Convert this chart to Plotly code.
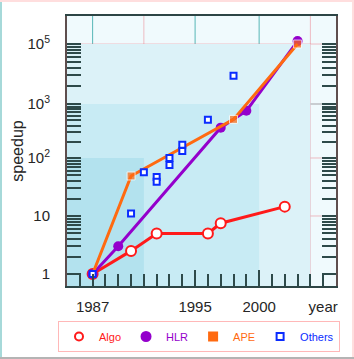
import numpy as np
import plotly.graph_objects as go

# ---------------- data ----------------
algo_years = [1987, 1990, 1992, 1996, 1997, 2002]
algo_speedup = [1, 2.5, 5, 5, 7.5, 14.5]

hlr_years = [1987, 1989, 1997, 1999, 2003]
hlr_speedup = [1, 3, 365, 750, 125000]

ape_years = [1987, 1990, 1998, 2003]
ape_speedup = [1, 49, 520, 100000]

others_years = [1987, 1990, 1991, 1992, 1992, 1993, 1993, 1994, 1994, 1996, 1998]
others_speedup = [1, 11, 57, 47, 39, 100, 76, 176, 135, 512, 8800]

x_tick_vals = [1987, 1995, 2000, 2005]
x_tick_text = ["1987", "1995", "2000", "year"]
y_tick_vals = [1, 10, 100, 1000, 100000]
y_tick_text = ["1", "10", "10<sup>2</sup>", "10<sup>3</sup>", "10<sup>5</sup>"]

# ---------------- broken log scale of the y axis ----------------
LOG_BREAKS = [0, 1, 2, 3, 5]
POS_BREAKS = [0, 1, 2, 2.93, 3.965]
TOP_SLOPE = (POS_BREAKS[-1] - POS_BREAKS[-2]) / (LOG_BREAKS[-1] - LOG_BREAKS[-2])


def ypos(v):
    l = np.log10(np.asarray(v, dtype=float))
    p = np.interp(l, LOG_BREAKS, POS_BREAKS)
    return np.where(l > LOG_BREAKS[-1], POS_BREAKS[-1] + (l - LOG_BREAKS[-1]) * TOP_SLOPE, p)


Y_RANGE = [-0.207, 4.448]
X_RANGE = [1985, 2006]

minor_y = [float(ypos(k * 10 ** d)) for d in (0, 1, 2) for k in range(2, 10)]
minor_y += [float(ypos(1000 * k ** 2)) for k in range(2, 10)]

# ---------------- layout geometry ----------------
W, H = 354, 359
ML, MR, MT, MB = 67, 18, 16, 73
PW, PH = W - ML - MR, H - MT - MB


def pxx(px):
    return (px - ML) / PW


def pxy(py):
    return 1 - (py - MT) / PH


FONT = "Liberation Sans, Arial, sans-serif"
RED, PURPLE, ORANGE, BLUE = "#ff1a1a", "#9400cc", "#ff6a10", "#0a2cff"

fig = go.Figure()

# main traces
fig.add_trace(go.Scatter(x=algo_years, y=ypos(algo_speedup), mode="lines+markers",
                         line=dict(color=RED, width=3),
                         marker=dict(symbol="circle", size=10, color="white",
                                     line=dict(color=RED, width=2)),
                         customdata=algo_speedup, hovertemplate="%{x}: %{customdata}<extra>Algo</extra>",
                         showlegend=False))
fig.add_trace(go.Scatter(x=hlr_years, y=ypos(hlr_speedup), mode="lines+markers",
                         line=dict(color=PURPLE, width=3),
                         marker=dict(symbol="circle", size=10, color=PURPLE),
                         customdata=hlr_speedup, hovertemplate="%{x}: %{customdata}<extra>HLR</extra>",
                         showlegend=False))
fig.add_trace(go.Scatter(x=ape_years, y=ypos(ape_speedup), mode="lines+markers",
                         line=dict(color=ORANGE, width=3),
                         marker=dict(symbol="square", size=[0, 8, 8, 8], color=ORANGE),
                         customdata=ape_speedup, hovertemplate="%{x}: %{customdata}<extra>APE</extra>",
                         showlegend=False))
fig.add_trace(go.Scatter(x=others_years, y=ypos(others_speedup), mode="markers",
                         marker=dict(symbol="square", size=6, color="white",
                                     line=dict(color=BLUE, width=2)),
                         customdata=others_speedup, hovertemplate="%{x}: %{customdata}<extra>Others</extra>",
                         showlegend=False))

# legend entries (markers only, coloured text)
for name, col, sym, fill, sz in [("Algo", RED, "circle", "white", 8), ("HLR", PURPLE, "circle", PURPLE, 9),
                                 ("APE", ORANGE, "square", ORANGE, 8), ("Others", BLUE, "square", "white", 7)]:
    fig.add_trace(go.Scatter(x=[None], y=[None], mode="markers",
                             name=f'<span style="color:{col}">{name}</span>',
                             marker=dict(symbol=sym, size=sz, color=fill, line=dict(color=col, width=2))))

# invisible trace for the overlay axis carrying the long ticks
fig.add_trace(go.Scatter(x=[None], y=[None], xaxis="x2", yaxis="y", showlegend=False, hoverinfo="skip"))

shapes = []
# background bands
for x1, ytop, col in [(2004, 1e5, "#dcf2f8"), (2000, 1e3, "#c8ebf4"), (1991, 1e2, "#b3e2ee")]:
    shapes.append(dict(type="rect", xref="x", yref="y", x0=X_RANGE[0], x1=x1,
                       y0=Y_RANGE[0], y1=float(ypos(ytop)), fillcolor=col, line=dict(width=0),
                       layer="below"))
# grid lines
for xv in [1987, 1995, 2000]:
    shapes.append(dict(type="line", xref="x", yref="paper", x0=xv, x1=xv, y0=0, y1=1,
                       line=dict(color="rgba(60,170,170,0.85)", width=1), layer="below"))
for xv in [1991, 2004]:
    shapes.append(dict(type="line", xref="x", yref="paper", x0=xv, x1=xv, y0=0, y1=1,
                       line=dict(color="rgba(235,110,125,0.45)", width=1), layer="below"))
for yv in [10, 100, 1e5]:
    shapes.append(dict(type="line", xref="paper", yref="y", x0=0, x1=1, y0=float(ypos(yv)), y1=float(ypos(yv)),
                       line=dict(color="rgba(235,110,125,0.45)", width=1), layer="below"))
shapes.append(dict(type="line", xref="paper", yref="y", x0=0, x1=1, y0=float(ypos(1000)), y1=float(ypos(1000)),
                   line=dict(color="rgba(175,175,180,0.6)", width=2), layer="below"))
# figure border
shapes += [
    dict(type="line", xref="paper", yref="paper", x0=pxx(1), x1=pxx(1), y0=pxy(0), y1=pxy(H),
         line=dict(color="#a6d9d9", width=2)),
    dict(type="line", xref="paper", yref="paper", x0=pxx(0), x1=pxx(W), y0=pxy(1), y1=pxy(1),
         line=dict(color="#ffdede", width=2)),
    dict(type="line", xref="paper", yref="paper", x0=pxx(W - 1), x1=pxx(W - 1), y0=pxy(0), y1=pxy(H),
         line=dict(color="#ffdede", width=2)),
    dict(type="line", xref="paper", yref="paper", x0=pxx(0), x1=pxx(W), y0=pxy(H - 1), y1=pxy(H - 1),
         line=dict(color="#b4b4b4", width=2)),
]

TICKC = "#2e4a4a"
fig.update_layout(
    width=W, height=H,
    margin=dict(l=ML, r=MR, t=MT, b=MB, pad=0, autoexpand=False),
    paper_bgcolor="white",
    plot_bgcolor="#f0fafd",
    font=dict(family=FONT, size=15, color="#262626"),
    shapes=shapes,
    showlegend=True,
    legend=dict(orientation="h", x=pxx(58), xanchor="left", y=pxy(321), yanchor="top",
                bgcolor="white", bordercolor="#ffb8b8", borderwidth=1,
                font=dict(family=FONT, size=11), itemwidth=30, tracegroupgap=0),
    xaxis=dict(range=X_RANGE, tickvals=x_tick_vals, ticktext=x_tick_text,
               ticks="inside", ticklen=12, tickwidth=2, tickcolor=TICKC,
               minor=dict(ticks="inside", ticklen=12, tickwidth=2, tickcolor=TICKC, dtick=1, tick0=1986),
               showgrid=False, zeroline=False, showline=True, linecolor="#2d4545", linewidth=2,
               mirror=True, ticklabelstandoff=6,
               tickfont=dict(size=15, color="#262626")),
    xaxis2=dict(range=X_RANGE, overlaying="x", anchor="y", side="bottom",
                tickvals=[1995, 2000], ticks="inside", ticklen=16, tickwidth=2, tickcolor=TICKC,
                showticklabels=False, showgrid=False, zeroline=False, showline=False),
    yaxis=dict(range=Y_RANGE, tickvals=[float(v) for v in ypos(y_tick_vals)], ticktext=y_tick_text,
               ticks="inside", ticklen=14, tickwidth=2, tickcolor=TICKC,
               minor=dict(ticks="inside", ticklen=11, tickwidth=2, tickcolor=TICKC, tickvals=minor_y),
               showgrid=False, zeroline=False, showline=True, linecolor="#5e4e4e", linewidth=2,
               mirror="allticks", ticklabelstandoff=12,
               title=dict(text="speedup", font=dict(size=16, color="#262626"), standoff=0),
               tickfont=dict(size=15, color="#262626")),
)

fig.write_html("out.html", config={"displayModeBar": False},
               post_script="document.body.style.margin='0';")
